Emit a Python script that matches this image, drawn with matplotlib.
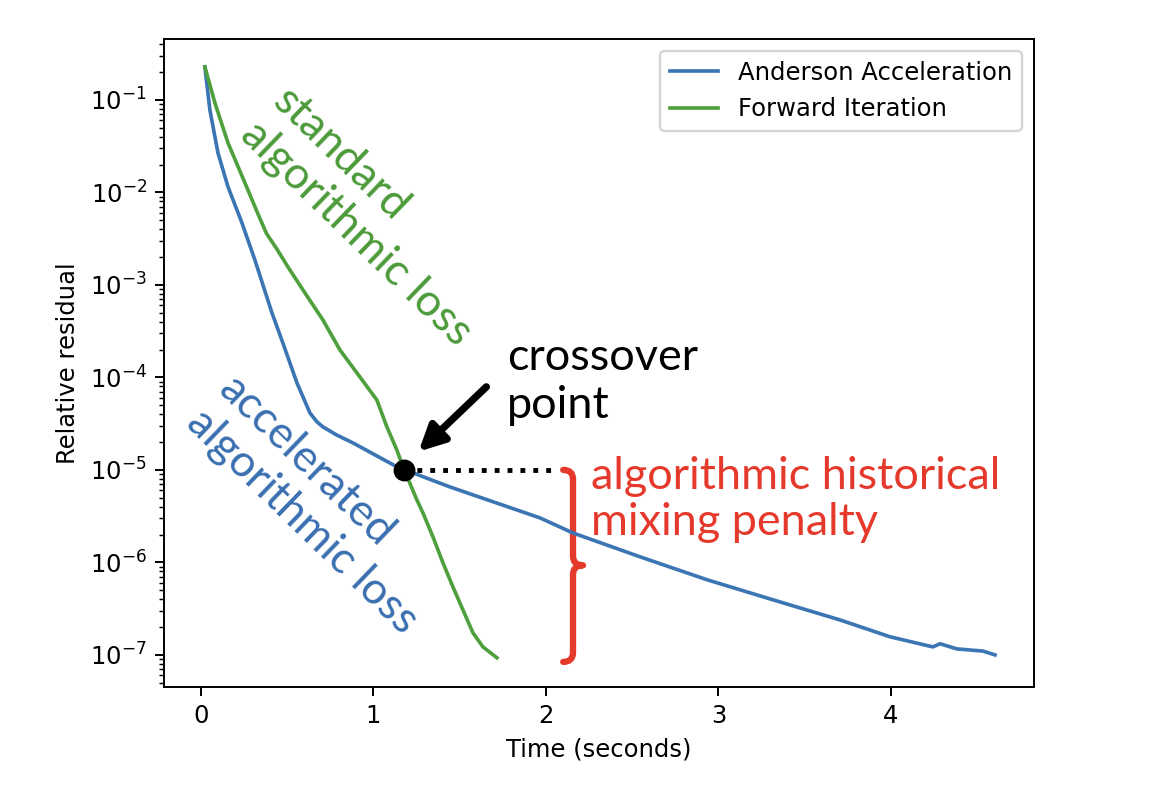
import matplotlib
matplotlib.use("Agg")
import matplotlib.pyplot as plt
from matplotlib.path import Path
from matplotlib.patches import PathPatch, FancyArrowPatch

# data
anderson_t = [0.023, 0.052, 0.099, 0.157, 0.238, 0.313, 0.412, 0.475, 0.557, 0.632,
              0.672, 0.707, 0.788, 0.881, 1.136, 1.443, 1.965, 2.157, 2.545, 2.933, 3.316,
              3.704, 3.994, 4.243, 4.284, 4.383, 4.533, 4.603]
anderson_res = [2.28e-1, 7.8e-2, 2.67e-2, 1.15e-2, 4.68e-3, 1.86e-3, 4.98e-4, 2.36e-4, 8.7e-5, 4.13e-5,
                3.32e-5, 2.92e-5, 2.38e-5, 1.96e-5, 1.08e-5, 6.55e-6, 3.03e-6, 2.08e-6, 1.15e-6, 6.5e-7, 3.94e-7,
                2.39e-7, 1.57e-7, 1.22e-7, 1.32e-7, 1.16e-7, 1.10e-7, 1.0e-7]

forward_t = [0.023, 0.081, 0.157, 0.255, 0.330, 0.380, 0.440, 0.504, 0.603, 0.707, 0.806,
             0.922, 1.020, 1.078, 1.136, 1.171, 1.252, 1.287, 1.345, 1.403, 1.461,
             1.519, 1.577, 1.635, 1.716]
forward_res = [2.28e-1, 9.3e-2, 3.43e-2, 1.27e-2, 5.9e-3, 3.6e-3, 2.45e-3, 1.57e-3, 8.2e-4, 4.19e-4, 1.98e-4,
               1.01e-4, 5.7e-5, 2.92e-5, 1.64e-5, 1.08e-5, 4.74e-6, 3.43e-6, 1.89e-6, 9.9e-7, 5.43e-7,
               3.06e-7, 1.73e-7, 1.22e-7, 9.3e-8]

crossover_t = 1.18
crossover_res = 1.0e-5
penalty_low = 8.4e-8

blue = "#3b75b4"
green = "#4ea03c"
red = "#e5392c"
blue_txt = "#3a6fb0"
green_txt = "#4c9a3a"
annot_font = "Lato"

fig = plt.figure(figsize=(1150 / 175, 794 / 175), dpi=175)
ax = fig.add_axes([0.1426, 0.1348, 0.7565, 0.8161])

ax.plot(anderson_t, anderson_res, color=blue, label="Anderson Acceleration")
ax.plot(forward_t, forward_res, color=green, label="Forward Iteration")
ax.set_yscale("log")
ax.set_xlim(-0.214, 4.829)
ax.set_ylim(4.5e-8, 0.456)
ax.set_xlabel("Time (seconds)")
ax.set_ylabel("Relative residual")
ax.legend(loc="upper right")

# crossover marker + dotted guide
ax.plot([crossover_t, 2.05], [crossover_res, crossover_res], color="black",
        linestyle=":", lw=2.0)
ax.plot([crossover_t], [crossover_res], "o", color="black", markersize=8)

ax.add_patch(FancyArrowPatch((1.675, 8.6e-5), (1.241, 1.45e-5), arrowstyle="-|>",
                             color="black", lw=3, mutation_scale=22))
ax.text(1.774, 9.0e-5, "crossover\npoint", fontsize=18.5, family=annot_font,
        ha="left", va="center", linespacing=1.2)

# curly brace for the penalty
xl, xe, xt = 2.157, 2.10, 2.215
ym = 9.3e-7
f = 10 ** 0.1
verts = [(xe, crossover_res), (xl, crossover_res), (xl, crossover_res / f),
         (xl, ym * f), (xl, ym), (xt, ym),
         (xl, ym), (xl, ym / f),
         (xl, penalty_low * f), (xl, penalty_low), (xe, penalty_low)]
codes = [Path.MOVETO, Path.CURVE3, Path.CURVE3,
         Path.LINETO, Path.CURVE3, Path.CURVE3,
         Path.CURVE3, Path.CURVE3,
         Path.LINETO, Path.CURVE3, Path.CURVE3]
ax.add_patch(PathPatch(Path(verts, codes), facecolor="none", edgecolor=red,
                       lw=2.6, capstyle="round", joinstyle="round"))
ax.text(2.261, 4.8e-6, "algorithmic historical\nmixing penalty", fontsize=18.5,
        family=annot_font, color=red, ha="left", va="center", linespacing=1.15)

ax.text(0.99, 5.4e-3, "standard\nalgorithmic loss", fontsize=18.3, family=annot_font,
        color=green_txt, rotation=-44, rotation_mode="anchor", ha="center", va="center",
        multialignment="left", linespacing=1.15)
ax.text(0.68, 4.2e-6, "accelerated\nalgorithmic loss", fontsize=18.3, family=annot_font,
        color=blue_txt, rotation=-44, rotation_mode="anchor", ha="center", va="center",
        multialignment="left", linespacing=1.15)

fig.savefig("out.png", dpi=175)
